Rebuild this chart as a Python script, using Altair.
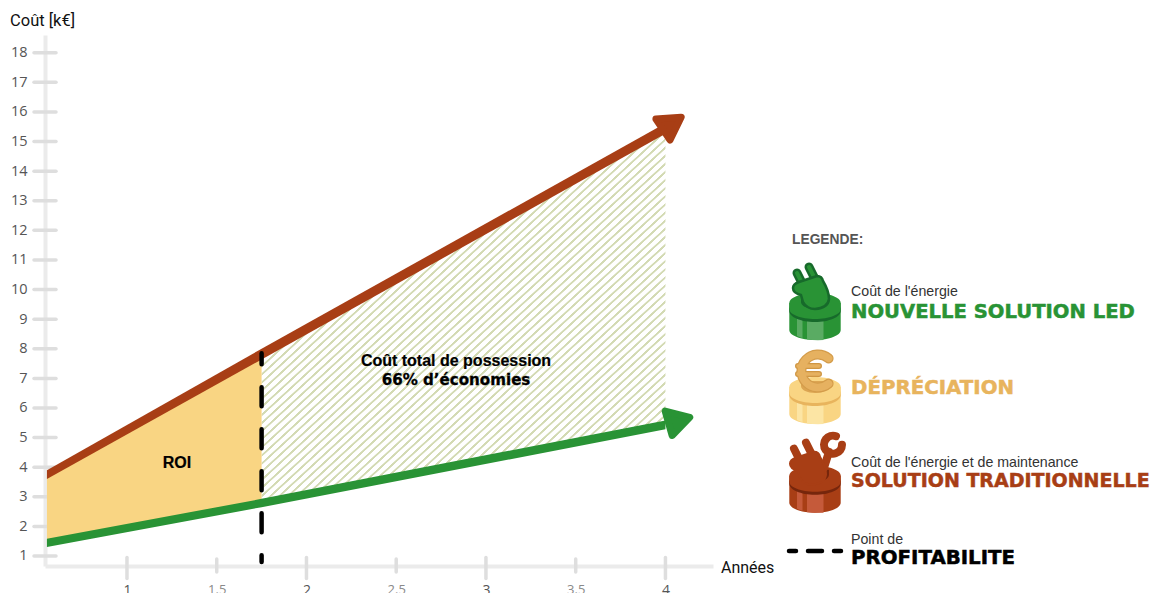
import altair as alt
import pandas as pd

# ---- values
years = [0.554, 1.75, 4.0]
red_top = [3.90, 8.00, 15.62]
red_bottom = [3.60, 7.64, 15.26]
green_top = [1.58, 2.93, 5.58]
green_bottom = [1.30, 2.65, 5.28]
roi_x = [0.554, 1.75]
roi_top = [3.75, 7.8]
roi_bottom = [1.45, 2.80]
saving_x = [1.75, 4.0]
saving_top = [7.8, 15.4]
saving_bottom = [2.80, 5.45]
breakeven_x = [1.75]
breakeven_low = [0.80]
breakeven_high = [7.85]
arrow_x = [4.02, 4.057]
arrow_y = [15.545, 5.55]
y_ticks = list(range(1, 19))
x_major = [1, 2, 3, 4]
x_minor = [1.5, 2.5, 3.5]

RED, GREEN, YEL, ORA = "#a83e15", "#299335", "#f9d583", "#e8b45d"
FONT = "Liberation Sans"
PLOT_W, PLOT_H = 668, 531
dummy = alt.Data(values=[{"a": 1}])


def ax(v):
    return alt.value(v - 45)


def ay(v):
    return alt.value(v - 35)


xs = alt.Scale(domain=[0.5432, 4.265], nice=False, zero=False)
ys = alt.Scale(domain=[0.662, 18.6], nice=False, zero=False)
x_axis = alt.Axis(
    values=x_major + x_minor, grid=False, ticks=False, domainColor="#ebebeb", domainWidth=4, title=None, format="~g",
    labelPadding=17, labelFont="Open Sans", labelFontSize={"expr": "datum.value % 1 ? 13 : 14"},
    labelColor={"expr": "datum.value % 1 ? '#8a8a8a' : '#555555'"}, labelFlush=False, labelOverlap=False)
y_axis = alt.Axis(
    values=y_ticks, grid=False, ticks=False, domainColor="#ebebeb", domainWidth=4, title=None,
    labelPadding=18, labelFont="Open Sans", labelFontSize=14.5, labelColor="#555555", labelOverlap=False)
X = lambda f: alt.X(f, type="quantitative", scale=xs, axis=x_axis)
Y = lambda f: alt.Y(f, type="quantitative", scale=ys, axis=y_axis)


def text(t, x, y, size, color="#000", weight="normal", font=FONT, align="left", stroke=0.0):
    kw = {}
    if stroke:
        kw.update(stroke=color, strokeWidth=stroke)
    return alt.Chart(dummy).mark_text(
        text=t, fontSize=size, color=color, fontWeight=weight, font=font, align=align, baseline="middle", **kw
    ).encode(x=ax(x), y=ay(y))


y_tick_layer = alt.Chart(pd.DataFrame({"v": y_ticks})).mark_rule(
    color="#dedede", strokeWidth=3.5, strokeCap="round").encode(
    y=Y("v"), x=alt.value(-11), x2=alt.value(11))
x_major_layer = alt.Chart(pd.DataFrame({"v": x_major})).mark_rule(
    color="#dedede", strokeWidth=3.5, strokeCap="round").encode(
    x=X("v"), y=alt.value(522.5), y2=alt.value(543.5))
x_minor_layer = alt.Chart(pd.DataFrame({"v": x_minor})).mark_rule(
    color="#dedede", strokeWidth=3.5, strokeCap="round").encode(
    x=X("v"), y=alt.value(524), y2=alt.value(537))

# ---- hatch: a repeating gradient over the saving area
n_stripes = 92
stops = []
for i in range(n_stripes):
    p = lambda f: (i + f) / n_stripes
    stops += [
        alt.GradientStop(offset=p(0.0), color="#ffffff"),
        alt.GradientStop(offset=p(0.08), color="#d3dab3"),
        alt.GradientStop(offset=p(0.32), color="#d3dab3"),
        alt.GradientStop(offset=p(0.40), color="#ffffff"),
    ]
stops.append(alt.GradientStop(offset=1, color="#ffffff"))
hatch = alt.Gradient(gradient="linear", stops=stops, x1=0, y1=0, x2=1, y2=1)

saving = alt.Chart(pd.DataFrame({"x": saving_x, "t": saving_top, "b": saving_bottom})).mark_area(
    fill=hatch, opacity=1).encode(x=X("x"), y=Y("t"), y2="b:Q")
roi = alt.Chart(pd.DataFrame({"x": roi_x, "t": roi_top, "b": roi_bottom})).mark_area(color=YEL).encode(
    x=X("x"), y=Y("t"), y2="b:Q")
red_band = alt.Chart(pd.DataFrame({"x": years, "t": red_top, "b": red_bottom})).mark_area(color=RED).encode(
    x=X("x"), y=Y("t"), y2="b:Q")
green_band = alt.Chart(pd.DataFrame({"x": years, "t": green_top, "b": green_bottom})).mark_area(color=GREEN).encode(
    x=X("x"), y=Y("t"), y2="b:Q")


def arrow(i, color, angle):
    return alt.Chart(pd.DataFrame({"x": [arrow_x[i]], "y": [arrow_y[i]]})).mark_point(
        shape="triangle", filled=True, size=640, color=color, stroke=color, strokeWidth=7,
        strokeJoin="round", opacity=1, angle=angle).encode(x=X("x"), y=Y("y"))


breakeven = alt.Chart(pd.DataFrame({"x": breakeven_x, "a": breakeven_high, "b": breakeven_low})).mark_rule(
    color="#000", strokeWidth=4.5, strokeCap="round", strokeDash=[19, 23], strokeDashOffset=8).encode(
    x=X("x"), y=Y("a"), y2="b:Q")

# ---- icons


def shape(path, x, y, color=None, stroke=None, sw=0):
    kw = {"filled": color is not None, "opacity": 1}
    if color:
        kw["fill"] = color
    if stroke:
        kw.update(stroke=stroke, strokeWidth=sw, strokeCap="round", strokeJoin="round")
    else:
        kw["strokeWidth"] = 0
    return alt.Chart(dummy).mark_point(shape=path, size=4, **kw).encode(x=ax(x), y=ay(y))


def cylinder(cx, cy, main, rim, light):
    w, t, b = 25.7, -14, 13
    return [
        shape(f"M{-w},{t} L{-w},{b} A{w},10 0 0 0 {w},{b} L{w},{t} Z", cx, cy, main),
        shape("M-18,0 L-12.5,0 L-12.5,21 Q-15,20.5 -18,19 Z", cx, cy, light),
        shape("M-8,0 L8.5,0 L8.5,23 Q0,23.5 -8,22.5 Z", cx, cy, light),
        shape(f"M{-w},-11 A{w},11 0 0 0 {w},-11 L{w},-6 A{w},11 0 0 1 {-w},-6 Z", cx, cy, rim),
        shape(f"M{-w},{t} A{w},10 0 0 1 {w},{t} L{w},-8 A{w},10 0 0 1 {-w},-8 Z", cx, cy, main),
    ]


PLUG_BODY = "M-22,-29 Q-22,-33 -16,-35 L2,-41 Q7,-41 8,-36 Q14,-26 14,-18 Q13,-9 0,-8 Q-8,-8 -12,-15 L-14,-22 Q-22,-24 -22,-29 Z"
PRONGS = "M-18,-44 L-13,-34 M-6,-50 L-1,-40"
SHADOW = "M-14,-15 A14,7 0 0 0 14,-15 L14,-20 L-14,-20 Z"
EURO_C = "M13.6,-42.6 A16.5,16.5 0 1 0 13.6,-17.4"
EURO_BARS = "M-17,-35 L4,-35 M-17,-27 L4,-27"
WRENCH = "M9,-22 L14,-38 M21,-53.5 A9,9 0 1 0 27,-45"

icons = []
icons += cylinder(815, 317, GREEN, "#176a2b", "#5aab63")
icons += [shape(SHADOW, 815, 317, "#176a2b")]
icons += [
    shape(PRONGS, 815, 317, None, "#176a2b", 9),
    shape(PRONGS, 815, 317, None, GREEN, 4),
    shape(PLUG_BODY, 815, 317, GREEN, "#176a2b", 2.5),
]
icons += cylinder(815, 401, YEL, "#e8b45d", "#fce5a4")
icons += [shape(SHADOW, 815, 401, "#dca552")]
icons += [
    shape(EURO_BARS, 815, 401, None, "#cf9643", 6),
    shape(EURO_C, 815, 401, None, "#d49c4a", 10),
    shape(EURO_C, 815, 401, None, "#e6b160", 7.5),
    shape(EURO_BARS, 815, 401, None, "#e6b160", 3.5),
]
icons += cylinder(815, 489.7, RED, "#76260c", "#c55a3a")
icons += [shape(SHADOW, 815, 489.7, "#76260c")]
icons += [shape(WRENCH, 815, 489.7, None, RED, 8)]
icons += [
    shape(PRONGS, 812, 492.7, None, RED, 8),
    shape(PLUG_BODY, 812, 492.7, RED, RED, 2),
]
dash_legend = alt.Chart(dummy).mark_rule(
    color="#000", strokeWidth=4.5, strokeCap="round", strokeDash=[7, 12, 14, 12, 7]).encode(
    x=ax(789), x2=ax(841), y=ay(551))

# ---- texts
HEAD = dict(weight="bold", font="DejaVu Sans", stroke=0.5)
texts = [
    text("Coût [k€]", 10, 21, 16.5, "#111", font="Roboto"),
    text("Années", 721, 568, 16, "#111", font="Roboto"),
    text("ROI", 177, 463, 16, "#000", "bold", stroke=0.2, align="center"),
    text("Coût total de possession", 456, 361, 16, "#000", "bold", stroke=0.2, align="center"),
    text("66% d’économies", 456, 380, 15.1, "#000", "bold", font="DejaVu Sans", stroke=0.3, align="center"),
    text("LEGENDE:", 792, 239.5, 13.8, "#555", "bold"),
    text("Coût de l'énergie", 851, 291.5, 14.2, "#333"),
    text("NOUVELLE SOLUTION LED", 851, 312, 19.6, GREEN, **HEAD),
    text("DÉPRÉCIATION", 851, 388, 19.8, ORA, **HEAD),
    text("Coût de l'énergie et de maintenance", 851, 462.5, 14.2, "#333"),
    text("SOLUTION TRADITIONNELLE", 851, 481, 19.0, RED, **HEAD),
    text("Point de", 851, 539.5, 14.2, "#333"),
    text("PROFITABILITE", 851, 558, 19.8, "#000", **HEAD),
]

chart = alt.layer(
    y_tick_layer, x_major_layer, x_minor_layer,
    saving, roi, red_band, green_band, arrow(0, RED, 56), arrow(1, GREEN, 74), breakeven,
    *icons, dash_legend, *texts,
).properties(
    width=PLOT_W, height=PLOT_H, background="#ffffff",
    padding={"left": 37, "top": 27, "right": 439, "bottom": 27},
    autosize=alt.AutoSizeParams(type="none"),
).configure_view(strokeWidth=0)

chart.save("out.html", embed_options={"renderer": "svg", "actions": False})
